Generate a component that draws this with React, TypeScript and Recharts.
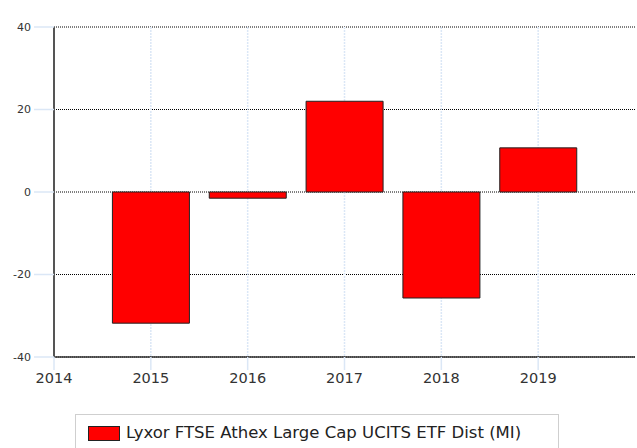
import React from "react";
import { BarChart, Bar, XAxis, YAxis, CartesianGrid, Legend } from "recharts";

const years = [2015, 2016, 2017, 2018, 2019];
const returns = [-31.8, -1.5, 22.0, -25.7, 10.7];
const xTicks = [2014, 2015, 2016, 2017, 2018, 2019];
const yTicks = [-40, -20, 0, 20, 40];
const seriesName = "Lyxor FTSE Athex Large Cap UCITS ETF Dist (MI)";

const data = years.map((year, i) => ({ year, value: returns[i] }));

const FONT = "'DejaVu Sans', Verdana, sans-serif";

const renderLegend = (props: any) => {
  const item = (props.payload && props.payload[0]) || { value: seriesName, color: "#ff0000" };
  return (
    <div
      style={{
        boxSizing: "border-box",
        width: 484,
        height: 40,
        border: "1px solid #cfcfcf",
        position: "relative",
        fontFamily: FONT,
      }}
    >
      <div
        style={{
          position: "absolute",
          left: 12,
          top: 11,
          width: 32,
          height: 15,
          boxSizing: "border-box",
          background: "#ff0000",
          border: "1px solid #222",
        }}
      />
      <div
        style={{
          position: "absolute",
          left: 50,
          top: 8,
          fontSize: 16.5,
          lineHeight: "20px",
          color: "#222",
          whiteSpace: "nowrap",
        }}
      >
        {item.value}
      </div>
    </div>
  );
};

export default function App() {
  return (
    <div style={{ position: "absolute", left: 0, top: 0, width: 637, height: 448, background: "#fff", overflow: "hidden" }}>
      <BarChart
        width={637}
        height={448}
        data={data}
        margin={{ top: 27, right: 2, left: 0, bottom: 21 }}
      >
        <CartesianGrid
          horizontal={true}
          vertical={false}
          stroke="#000"
          strokeDasharray="1 1"
          horizontalValues={yTicks}
        />
        <CartesianGrid
          horizontal={false}
          vertical={true}
          stroke="#dbe7f6"
          strokeWidth={1.5}
          strokeDasharray="2 1"
          verticalValues={xTicks}
        />
        <XAxis
          dataKey="year"
          type="number"
          domain={[2014, 2020]}
          ticks={xTicks}
          allowDecimals={false}
          height={30}
          tickSize={13}
          tickMargin={3}
          axisLine={{ stroke: "#333", strokeWidth: 1.5 }}
          tickLine={{ stroke: "#dbe7f6", strokeWidth: 1.5 }}
          tick={{ fill: "#333", fontSize: 14.5, fontFamily: FONT }}
        />
        <YAxis
          type="number"
          domain={[-40, 40]}
          ticks={yTicks}
          width={54}
          tickSize={20}
          tickMargin={3}
          axisLine={{ stroke: "#555", strokeWidth: 2 }}
          tickLine={{ stroke: "#dbe7f6", strokeWidth: 1.5 }}
          tick={{ fill: "#333", fontSize: 11, fontFamily: FONT }}
        />
        <Bar
          dataKey="value"
          name={seriesName}
          fill="#ff0000"
          stroke="#222"
          strokeWidth={1}
          barSize={77}
          isAnimationActive={false}
        />
        <Legend
          verticalAlign="bottom"
          content={renderLegend}
          wrapperStyle={{ left: 75, top: 414, bottom: "auto", width: 484, height: 40 }}
        />
      </BarChart>
    </div>
  );
}
